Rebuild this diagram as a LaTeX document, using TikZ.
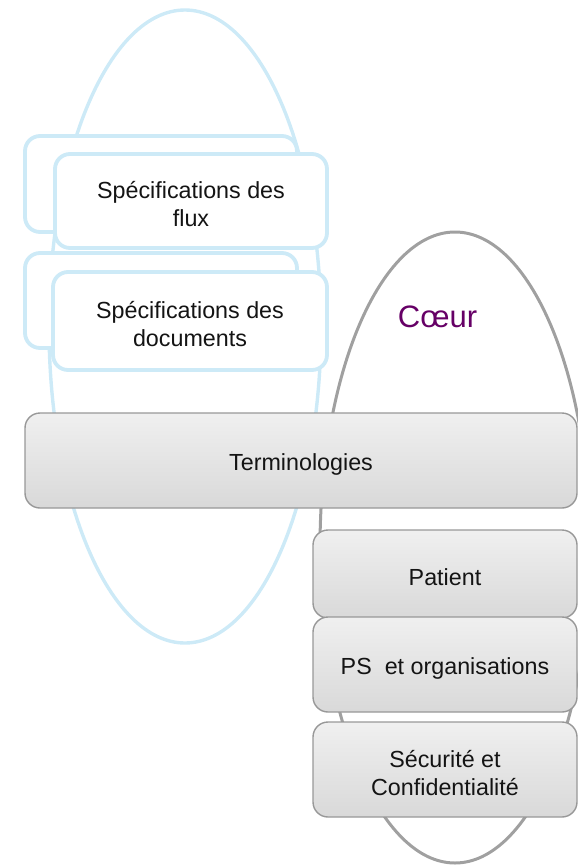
\documentclass[tikz,border=0pt]{standalone}
\usepackage{fontspec}
\setmainfont{Liberation Sans}
\usetikzlibrary{shapes.geometric}
\definecolor{lblue}{RGB}{205,234,247}
\definecolor{ellgray}{RGB}{160,160,160}
\definecolor{boxgray}{RGB}{152,152,152}
\definecolor{coeur}{RGB}{102,0,102}
\tikzset{
  ell/.style={ellipse, inner sep=0pt, outer sep=0pt},
  boxtext/.style={inner sep=0pt, align=center, yshift=-3.5pt, font=\fontsize{23.3}{28}\selectfont, text=black!92},
  bluebox/.style={draw=lblue, line width=3.8pt, rounded corners=15pt, fill=white, inner sep=0pt, outer sep=0pt},
  graybox/.style={draw=boxgray, line width=1.4pt, rounded corners=15pt, top color=gray!12, bottom color=gray!30, inner sep=0pt, outer sep=0pt},
}
\begin{document}
\begin{tikzpicture}[x=1pt,y=-1pt]
\useasboundingbox (0,0) rectangle (578,865);
% ellipses
\node[ell, draw=lblue, line width=3.4pt, minimum width=272pt, minimum height=633pt] (blueell) at (185,326.5) {};
\node[ell, draw=ellgray, line width=3pt, minimum width=270pt, minimum height=631pt] (grayell) at (455,547.5) {};
% blue boxes
\node[bluebox, minimum width=272pt, minimum height=96pt] (back1) at (161,184) {};
\node[bluebox, minimum width=272pt, minimum height=94pt,
  label={[boxtext]center:Spécifications des\\flux}] (flux) at (191,201) {};
\node[bluebox, minimum width=272pt, minimum height=95pt] (back2) at (161,300.5) {};
\node[bluebox, minimum width=274pt, minimum height=98pt,
  label={[boxtext]center:Spécifications des\\documents}] (docs) at (190,321) {};
% Coeur label
\node[text=coeur, font=\fontsize{31}{36}\selectfont, inner sep=0pt] (coeurlbl) at (437.5,317) {Cœur};
% Terminologies
\node[graybox, minimum width=552pt, minimum height=95pt,
  label={[boxtext]center:Terminologies}] (termin) at (301,460.5) {};
% gray boxes
\node[graybox, minimum width=264pt, minimum height=88pt,
  label={[boxtext]center:Patient}] (patient) at (445,574) {};
\node[graybox, minimum width=264pt, minimum height=95pt,
  label={[boxtext]center:PS\ \ et organisations}] (ps) at (445,664.5) {};
\node[graybox, minimum width=264pt, minimum height=95pt,
  label={[boxtext]center:Sécurité et\\Confidentialité}] (secu) at (445,769.5) {};
\end{tikzpicture}
\end{document}
